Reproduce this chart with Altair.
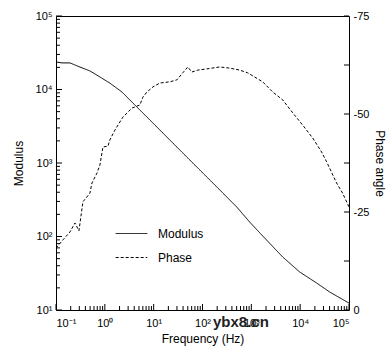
import altair as alt
import pandas as pd

# ---- data ----
mod_freq = [0.1, 0.133, 0.193, 0.31, 0.495, 0.794, 1.27, 2.24, 3.26, 4.53, 8.36, 9.64,
            24.7, 34.4, 63.4, 88.1, 226, 502, 927, 1490, 4390, 9770, 21700, 40100, 100000]
mod_vals = [23700, 23000, 23000, 20200, 17900, 14800, 12200, 9250, 7190, 5780, 3850, 3500,
            1870, 1500, 1000, 804, 430, 252, 157, 112, 52.6, 32.9, 23.3, 17.6, 12.4]

ph_freq = [0.1, 0.139, 0.193, 0.245, 0.295, 0.356, 0.495, 0.545, 0.689, 0.794, 0.914, 1.16,
           1.27, 1.61, 2.34, 3.58, 5.22, 6.01, 7.26, 9.64, 13.4, 21.4, 29.8, 39.5, 50.0,
           60.4, 80.2, 122, 226, 361, 579, 843, 1710, 2740, 4390, 7030, 11200, 18000,
           27500, 34800, 55700, 74000, 100000]
ph_vals = [-15.8, -17.9, -19.9, -22.2, -20.2, -27.6, -29.8, -32.4, -34.9, -37.0, -41.6, -41.8,
           -43.4, -45.9, -49.2, -51.5, -52.3, -54.3, -55.6, -56.9, -57.9, -58.2, -58.7, -60.5, -62.0,
           -60.7, -61.2, -61.5, -62.0, -61.7, -61.2, -60.5, -58.2, -55.6, -53.6, -50.3, -47.2, -43.9,
           -40.3, -37.8, -32.4, -29.8, -26.3]

series_names = ["Modulus", "Phase"]

x_major = [0.1, 1, 10, 100, 1000, 10000, 100000]
x_minor = [k * d for d in [0.1, 1, 10, 100, 1000, 10000] for k in range(2, 10)]
y_major = [10, 100, 1000, 10000, 100000]
y_minor = [k * d for d in [10, 100, 1000, 10000] for k in range(2, 10)]
ph_ticks = [0, -12.5, -25, -37.5, -50, -62.5, -75]
ph_labels = [0, -25, -50, -75]

W, H = 293, 294
FONT = "Liberation Sans"

df_mod = pd.DataFrame({"f": mod_freq, "v": mod_vals, "s": series_names[0]})
df_ph = pd.DataFrame({"f": ph_freq, "v": ph_vals, "s": series_names[1]})

xscale = alt.Scale(type="log", domain=[0.1, 100000], nice=False)
yscale_mod = alt.Scale(type="log", domain=[10, 100000], nice=False)
yscale_ph = alt.Scale(domain=[0, -75], nice=False, zero=False)

sup = "['10\u207b\u00b9','10\u2070','10\u00b9','10\u00b2','10\u00b3','10\u2074','10\u2075']"
xaxis = alt.Axis(title="Frequency (Hz)", values=x_major, ticks=False, domain=False, grid=False,
                 labelExpr=sup + "[round(log(datum.value)/LN10)+1]", labelPadding=7,
                 titlePadding=5)
yaxis_mod = alt.Axis(title="Modulus", values=y_major, ticks=False, domain=False, grid=False,
                     labelExpr=sup + "[round(log(datum.value)/LN10)+1]", labelPadding=4,
                     titlePadding=10)
yaxis_ph = alt.Axis(title="Phase angle", orient="right", values=ph_labels, ticks=False,
                    domain=False, grid=False,
                    labelExpr="datum.value == 0 ? '0' : '-' + abs(datum.value)",
                    labelPadding=4, titlePadding=4)

dash = alt.StrokeDash(
    "s:N",
    scale=alt.Scale(domain=series_names, range=[[1, 0], [3, 2]]),
    legend=alt.Legend(title=None, orient="none", legendX=59, legendY=201,
                      symbolType="stroke", symbolSize=1000, symbolStrokeWidth=1,
                      symbolStrokeColor="black", labelFontSize=12, labelFont=FONT,
                      labelColor="black", rowPadding=1, labelOffset=10),
)

mod_line = alt.Chart(df_mod).mark_line(color="black", strokeWidth=1).encode(
    x=alt.X("f:Q", scale=xscale, axis=xaxis),
    y=alt.Y("v:Q", scale=yscale_mod, axis=yaxis_mod),
    strokeDash=dash,
)

left_major = alt.Chart(pd.DataFrame({"v": y_major})).mark_rule(color="black").encode(
    y=alt.Y("v:Q", scale=yscale_mod, axis=yaxis_mod), x=alt.value(0), x2=alt.value(6))
left_minor = alt.Chart(pd.DataFrame({"v": y_minor})).mark_rule(color="black").encode(
    y=alt.Y("v:Q", scale=yscale_mod, axis=yaxis_mod), x=alt.value(0), x2=alt.value(4))
bot_major = alt.Chart(pd.DataFrame({"f": x_major})).mark_rule(color="black").encode(
    x=alt.X("f:Q", scale=xscale, axis=xaxis), y=alt.value(H), y2=alt.value(H - 6))
bot_minor = alt.Chart(pd.DataFrame({"f": x_minor})).mark_rule(color="black").encode(
    x=alt.X("f:Q", scale=xscale, axis=xaxis), y=alt.value(H), y2=alt.value(H - 4))

watermark = alt.Chart(pd.DataFrame({"t": ["ybx8.cn"]})).mark_text(
    font=FONT, fontSize=15, fontWeight="bold", color="#222", align="left", baseline="middle"
).encode(text="t:N", x=alt.value(157), y=alt.value(306))

left = alt.layer(mod_line, left_major, left_minor, bot_major, bot_minor, watermark)

ph_line = alt.Chart(df_ph).mark_line(color="black", strokeWidth=1).encode(
    x=alt.X("f:Q", scale=xscale, axis=xaxis),
    y=alt.Y("v:Q", scale=yscale_ph, axis=yaxis_ph),
    strokeDash=dash,
)
right_ticks = alt.Chart(pd.DataFrame({"v": ph_ticks})).mark_rule(color="black").encode(
    y=alt.Y("v:Q", scale=yscale_ph, axis=yaxis_ph), x=alt.value(W), x2=alt.value(W - 5))

right = alt.layer(ph_line, right_ticks)

chart = alt.layer(left, right).resolve_scale(y="independent").properties(
    width=W, height=H,
    padding={"left": 56, "top": 16, "right": 43, "bottom": 41},
    autosize=alt.AutoSizeParams(type="none"),
    background="white",
).configure_view(stroke="black", strokeWidth=1).configure_axis(
    labelFont=FONT, labelFontSize=11, labelColor="black",
    titleFont=FONT, titleFontSize=12, titleFontWeight="normal", titleColor="black",
)

chart.save("out.html", embed_options={"renderer": "svg", "actions": False})
